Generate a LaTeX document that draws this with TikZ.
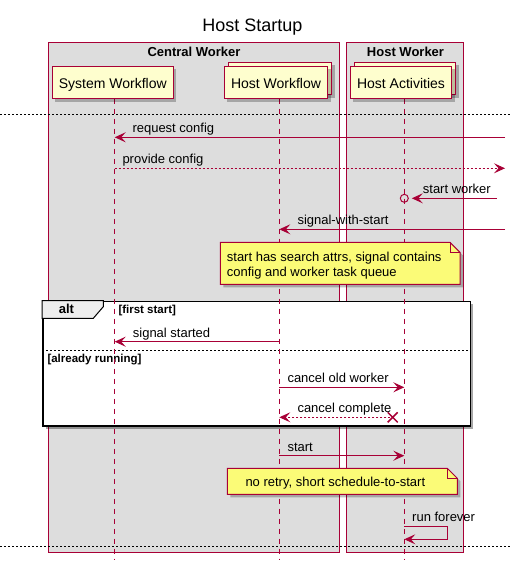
\documentclass[tikz,border=0pt]{standalone}
\usepackage{fontspec}
\setmainfont{Liberation Sans}
\usetikzlibrary{arrows.meta,shadows,calc}
\definecolor{umlred}{HTML}{A80036}
\definecolor{umlyellow}{HTML}{FEFECE}
\definecolor{umlgray}{HTML}{DDDDDD}
\definecolor{umlnote}{HTML}{FBFB77}
\definecolor{umltab}{HTML}{EEEEEE}
\tikzstyle{participant}=[rectangle,draw=umlred,fill=umlyellow,line width=1pt,minimum height=32.4pt,inner sep=0pt,text height=12.5pt,text depth=0pt,font=\fontsize{14}{16}\selectfont,drop shadow={shadow xshift=3pt,shadow yshift=-3pt,fill=black,opacity=0.25}]
\tikzstyle{groupbox}=[draw=umlred,fill=umlgray,line width=1pt]
\tikzstyle{boxtitle}=[font=\bfseries\fontsize{13}{15}\selectfont,anchor=base,inner sep=0pt]
\tikzstyle{lifeline}=[draw=umlred,line width=1pt,dash pattern=on 5pt off 5pt]
\tikzstyle{msg}=[draw=umlred,line width=1pt,-{Stealth[length=11pt,width=10pt,inset=4.5pt]}]
\tikzstyle{reply}=[msg,dash pattern=on 2pt off 2pt]
\tikzstyle{msglabel}=[font=\fontsize{13}{15}\selectfont,anchor=base west,inner sep=0pt]
\tikzstyle{notebox}=[draw=umlred,fill=umlnote,line width=1pt,drop shadow={shadow xshift=3pt,shadow yshift=-3pt,fill=black,opacity=0.25}]
\tikzstyle{notetext}=[font=\fontsize{13}{15.5}\selectfont,anchor=base west,inner sep=0pt,align=left]
\tikzstyle{altframe}=[rectangle,draw=black,line width=1.5pt,fill=white,inner sep=0pt,drop shadow={shadow xshift=3pt,shadow yshift=-3pt,fill=black,opacity=0.35}]
\tikzstyle{alttab}=[draw=black,fill=umltab,line width=1pt]
\tikzstyle{altsep}=[draw=black,line width=0.8pt,dash pattern=on 2pt off 2pt]
\tikzstyle{guard}=[font=\bfseries\fontsize{11.5}{13}\selectfont,anchor=base west,inner sep=0pt]
\tikzstyle{pagesep}=[draw=black,line width=0.8pt,dash pattern=on 2pt off 2pt]

\begin{document}
\begin{tikzpicture}[x=1pt,y=-1pt]

    \useasboundingbox (0,0) rectangle (511,564);
    \fill[white] (0,0) rectangle (511,564);

    \node[font=\fontsize{18}{20}\selectfont,anchor=base,inner sep=0pt] (title) at (252.5,31.5) {Host Startup};

    % boxes
    \draw[groupbox] (48.7,42.7) rectangle (339.3,552.3);
    \draw[groupbox] (346.3,42.7) rectangle (463.3,552.3);
    \node[boxtitle] (central) at (194,56.5) {Central Worker};
    \node[boxtitle] (hostbox) at (405.5,56.5) {Host Worker};

    % page separators
    \foreach \y in {114.3, 546.7}
        \draw[pagesep] (0,\y) -- (511,\y);

    % alt frame
    \node[altframe,anchor=north west,minimum width=427.7pt,minimum height=124.3pt] (alt) at (42,300.7) {};
    \draw[alttab] (alt.north west) -- (103.3,300.7) -- (103.3,306.7) -- (93.3,318.3) -- (42,318.3) -- cycle;
    \draw[altsep] (alt.west |- 0,350) -- (alt.east |- 0,350);
    \node[font=\bfseries\fontsize{13}{15}\selectfont,anchor=base west,inner sep=0pt] (altlabel) at (58.7,313) {alt};
    \node[guard] (first) at (118.3,313) {[first start]};
    \node[guard] (running) at (47.3,362.5) {[already running]};

    % lifelines
    \foreach \name/\x in {swl/114.7, hwl/279.3, hal/404.3} {
        \coordinate (\name) at (\x,98.7);
        \draw[lifeline] (\name) -- (\x,559);
    }

    % participants
    \node[participant,minimum width=121pt] (sw) at (112.8,82.5) {System Workflow};
    \node[participant,minimum width=103.4pt] (hwback) at (280,78.5) {};
    \node[participant,minimum width=103.4pt] (hw) at (276,82.5) {Host Workflow};
    \node[participant,minimum width=101.4pt] (haback) at (405,78.5) {};
    \node[participant,minimum width=101.4pt] (ha) at (401,82.5) {Host Activities};

    % message rows
    \foreach \name/\y in {m1/137.3, m2/168.3, m3/198.3, m4/229.3, m7/341.7, m9/387.3, m10/417.3, m11/455.7, m13/526, m13b/539.3}
        \coordinate (\name) at (0,\y);
    \coordinate (e1) at (505,137.3);
    \coordinate (e2) at (505,168.3);
    \coordinate (e3) at (496.7,198.3);
    \coordinate (e4) at (505,229.3);

    \draw[msg] (e1) -- (swl |- m1);
    \draw[reply] (swl |- m2) -- (e2);
    \draw[msg] (e3) -- ($(hal |- m3)+(7.5,0)$);
    \draw[umlred,line width=1pt] (hal |- m3) circle (4pt);
    \draw[msg] (e4) -- (hwl |- m4);
    \draw[msg] (hwl |- m7) -- (swl |- m7);
    \draw[msg] (hwl |- m9) -- (hal |- m9);
    \draw[reply] ($(hal |- m10)+(-14,0)$) -- (hwl |- m10);
    \draw[umlred,line width=1.5pt] ($(hal |- m10)+(-16.6,-5)$) -- ++(10,10) ($(hal |- m10)+(-16.6,5)$) -- ++(10,-10);
    \draw[msg] (hwl |- m11) -- (hal |- m11);
    \draw[msg] (hal |- m13) -- ++(43,0) |- (hal |- m13b);

    % message labels
    \foreach \name/\x/\y/\txt in {l1/132.3/137.3/request config, l2/122.3/168.3/provide config, l3/422.7/198.3/start worker, l4/297.3/229.3/signal-with-start, l7/132.7/341.7/signal started, l9/287.3/387.3/cancel old worker, l10/297.3/417.3/cancel complete, l11/287.3/455.7/start, l13/412/526/run forever}
        \node[msglabel] (\name) at (\x,\y-4.7) {\txt};

    % notes
    \path[notebox] (220.3,242.3) -- (450,242.3) -- (460,252.3) -- (460,284.3) -- (220.3,284.3) -- cycle;
    \draw[umlred,line width=1pt] (450,242.3) -- (450,252.3) -- (460,252.3);
    \node[notetext] (note1) at (226.7,276.5) {start has search attrs, signal contains\\config and worker task queue};

    \path[notebox] (227.3,468.3) -- (447.3,468.3) -- (457.3,478.3) -- (457.3,494.3) -- (227.3,494.3) -- cycle;
    \draw[umlred,line width=1pt] (447.3,468.3) -- (447.3,478.3) -- (457.3,478.3);
    \node[notetext] (note2) at (245.3,486.5) {no retry, short schedule-to-start};

\end{tikzpicture}
\end{document}
